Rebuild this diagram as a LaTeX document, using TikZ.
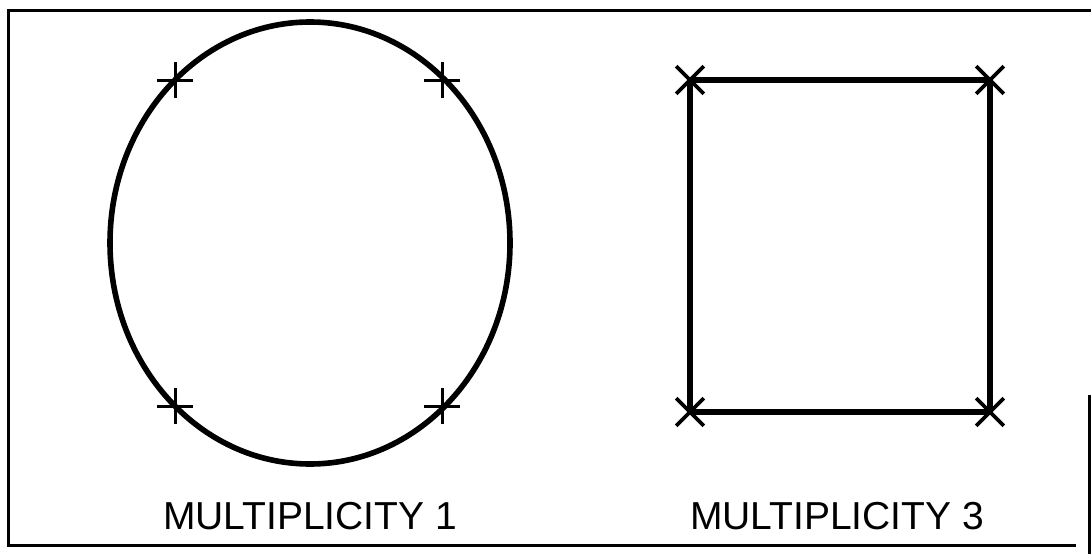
\documentclass[tikz,border=0pt]{standalone}
\usepackage{fontspec}
\setmainfont{Liberation Sans}
\usetikzlibrary{shapes.misc}
\tikzset{
  frameline/.style={line width=3pt,black},
  curve/.style={line width=5.6pt,black},
  pluscross/.style={cross out,draw,line width=3pt,rotate=45,
    minimum size=22pt,inner sep=0pt},
  xcross/.style={cross out,draw,line width=3.6pt,
    minimum size=24pt,inner sep=0pt},
  caption/.style={font=\fontsize{39}{44}\selectfont,inner sep=0pt}
}
\begin{document}
\begin{tikzpicture}[x=1pt,y=-1pt]
\useasboundingbox (0,0) rectangle (1091,554);
% frame
\draw[frameline] (1091,10) -- (8,10) -- (8,545) -- (1076,545);
\draw[frameline] (1089,395) -- (1089,554);

% multiplicity 1: ellipse with four simple points
\draw[curve] (310,243) ellipse [x radius=200,y radius=221];
\node[pluscross] (p1) at (175,80) {};
\node[pluscross] (p2) at (442,80) {};
\node[pluscross] (p3) at (175,406) {};
\node[pluscross] (p4) at (442,406) {};

% multiplicity 3: corners of the square
\node[xcross] (s1) at (690,80) {};
\node[xcross] (s2) at (990,80) {};
\node[xcross] (s3) at (990,412) {};
\node[xcross] (s4) at (690,412) {};
\draw[curve,line join=miter] (s1.center) -- (s2.center) -- (s3.center)
  -- (s4.center) -- cycle;

\node[caption] (lab1) at (310,516) {MULTIPLICITY 1};
\node[caption] (lab3) at (837,516) {MULTIPLICITY 3};
\end{tikzpicture}
\end{document}
